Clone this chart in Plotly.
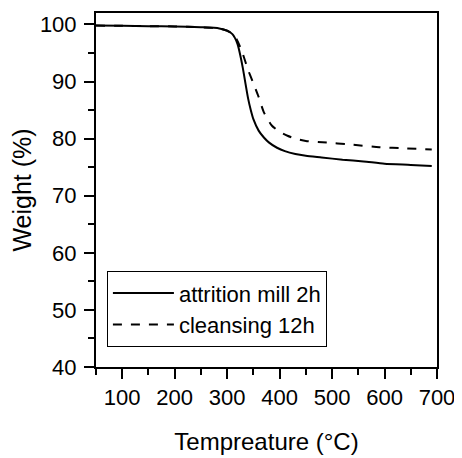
import plotly.graph_objects as go

# TGA curves
temp_mill = [50, 100, 150, 200, 250, 285, 300, 310, 315, 320, 325, 330, 335, 340, 345,
             350, 360, 370, 380, 395, 410, 430, 450, 480, 520, 560, 600, 650, 690]
weight_mill = [99.8, 99.75, 99.7, 99.65, 99.5, 99.3, 98.9, 98.3, 97.6, 96.5, 94.6, 92.3, 89.6, 87.0, 85.0,
               83.4, 81.4, 80.2, 79.3, 78.4, 77.8, 77.3, 77.0, 76.7, 76.3, 76.0, 75.6, 75.4, 75.2]

temp_cleanse = [50, 100, 150, 200, 250, 285, 300, 310, 318, 325, 330, 340, 350, 360, 370,
                385, 400, 415, 430, 450, 490, 530, 590, 640, 690]
weight_cleanse = [99.8, 99.75, 99.7, 99.65, 99.5, 99.3, 98.9, 98.4, 97.4, 96.0, 94.8, 92.0, 89.7, 87.3, 84.6,
                  82.3, 81.2, 80.5, 80.0, 79.6, 79.3, 79.0, 78.5, 78.3, 78.1]

FONT = "Liberation Sans, Arial, sans-serif"

fig = go.Figure()
fig.add_trace(go.Scatter(
    x=temp_mill, y=weight_mill, mode="lines", name="attrition mill 2h",
    line=dict(color="black", width=2, shape="spline", smoothing=0.6)
))
fig.add_trace(go.Scatter(
    x=temp_cleanse, y=weight_cleanse, mode="lines", name="cleansing 12h",
    line=dict(color="black", width=2, dash="dash", shape="spline", smoothing=0.6)
))

axis_common = dict(
    showline=True, linecolor="black", linewidth=2, mirror=True,
    ticks="outside", ticklen=10, tickwidth=2, tickcolor="black",
    showgrid=False, zeroline=False, automargin=False,
    tickfont=dict(size=22, color="black", family=FONT),
)

fig.update_xaxes(
    range=[50, 700], tickvals=[100, 200, 300, 400, 500, 600, 700],
    minor=dict(tickvals=[50, 150, 250, 350, 450, 550, 650], ticklen=6, tickwidth=2,
               tickcolor="black", ticks="outside"),
    title=dict(text="Tempreature (°C)", font=dict(size=24, color="black", family=FONT), standoff=24),
    **axis_common
)
fig.update_yaxes(
    range=[40, 102], tickvals=[40, 50, 60, 70, 80, 90, 100],
    minor=dict(tickvals=[45, 55, 65, 75, 85, 95], ticklen=6, tickwidth=2,
               tickcolor="black", ticks="outside"),
    ticklabelstandoff=3,
    title=dict(text="Weight (%)", font=dict(size=25, color="black", family=FONT), standoff=1),
    **axis_common
)

# the page body adds an 8px offset, so the figure is sized to fit the window
fig.update_layout(
    width=454, height=450,
    margin=dict(l=88, r=25, t=5, b=91),
    plot_bgcolor="white", paper_bgcolor="white",
    font=dict(family=FONT, color="black", size=22),
    legend=dict(
        x=0.032, y=0.056, xanchor="left", yanchor="bottom",
        bordercolor="black", borderwidth=1, bgcolor="white",
        font=dict(size=22, color="black", family=FONT),
        tracegroupgap=0, itemwidth=61,
    ),
)

fig.write_html("out.html")
